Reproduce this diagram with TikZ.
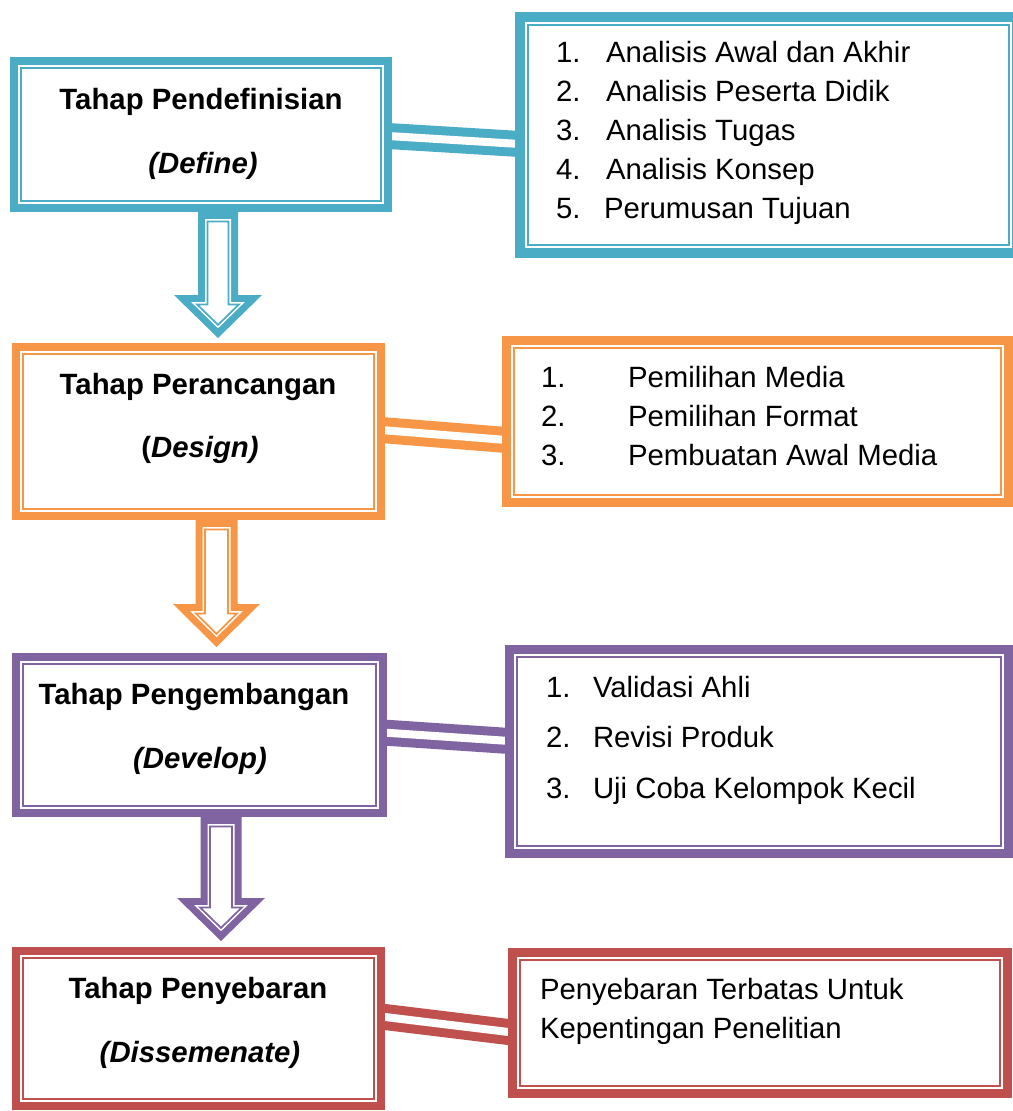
\documentclass[tikz,border=0pt]{standalone}
\usepackage{fontspec}
\setmainfont{Liberation Sans}
\usetikzlibrary{backgrounds}
\definecolor{cblue}{HTML}{4BACC6}
\definecolor{corange}{HTML}{F79646}
\definecolor{cpurple}{HTML}{8064A2}
\definecolor{cred}{HTML}{C0504D}

% box with thick outer border and thin inner line
\newcommand\stagebox[7]{% name, color, x1, y1, x2, y2, border (px)
  \node[draw=#2, fill=white, line width={#7*0.75pt}, inner sep=0pt, outer sep=0pt,
        minimum width={(#5-#3-#7)*0.75pt}, minimum height={(#6-#4-#7)*0.75pt}]
        (#1) at ({(#3+#5)/2},{(#4+#6)/2}) {};
  \draw[#2, line width=1.15pt]
     ([shift={({#7/2+2.8},{#7/2+2.8})}]#1.north west) rectangle
     ([shift={({-#7/2-2.8},{-#7/2-2.8})}]#1.south east);
}

% inset points of a down block arrow
\newcommand\arrowpts[2]{% inset d, top y
  \pgfmathsetmacro\pW{\aw-#1}%
  \pgfmathsetmacro\pTop{#2}%
  \pgfmathsetmacro\pB{\ays+#1}%
  \pgfmathsetmacro\pdy{\ayt-\ays}%
  \pgfmathsetmacro\pL{sqrt(\ah*\ah+\pdy*\pdy)}%
  \pgfmathsetmacro\pT{\ayt-#1*\pL/\ah}%
  \pgfmathsetmacro\pH{(\ah*(\pdy-#1)-#1*\pL)/\pdy}%
  \pgfmathsetmacro\xa{\acx-\pW}%
  \pgfmathsetmacro\xb{\acx+\pW}%
  \pgfmathsetmacro\xc{\acx-\pH}%
  \pgfmathsetmacro\xd{\acx+\pH}%
}
\newcommand\stagearrow[7]{% color, cx, y0, ys, yt, w, h
  \def\acx{#2}\def\ays{#4}\def\ayt{#5}\def\aw{#6}\def\ah{#7}%
  \arrowpts{0}{#3-4}%
  \fill[#1] (\xa,\pTop) -- (\xa,\pB) -- (\xc,\pB) -- (\acx,\pT) -- (\xd,\pB) -- (\xb,\pB) -- (\xb,\pTop) -- cycle;
  \arrowpts{7}{#3+7}%
  \fill[white] (\xa,\pTop) -- (\xa,\pB) -- (\xc,\pB) -- (\acx,\pT) -- (\xd,\pB) -- (\xb,\pB) -- (\xb,\pTop) -- cycle;
  \arrowpts{9.4}{#3+9.4}%
  \draw[#1, line width=1.3pt, line join=miter] (\xa,\pTop) -- (\xa,\pB) -- (\xc,\pB) -- (\acx,\pT) -- (\xd,\pB) -- (\xb,\pB) -- (\xb,\pTop) -- cycle;
}

\begin{document}
\begin{tikzpicture}[x=0.75pt, y=-0.75pt,
  txt/.style={inner sep=0pt, outer sep=0pt, font=\fontsize{22}{26}\selectfont},
  ttl/.style={txt, font=\fontsize{22}{26}\selectfont\bfseries, anchor=base},
  itm/.style={txt, anchor=base west},
  link/.style={draw=#1, line width=6.75pt, double=white, double distance=6pt}]
\useasboundingbox (0,0) rectangle (1013,1111);
\clip (0,0) rectangle (1013,1111);

% ---- boxes
\stagebox{def}{cblue}{10}{57}{392}{212}{8}
\stagebox{defl}{cblue}{515}{12}{1022}{258}{10}
\stagebox{des}{corange}{12}{343}{385}{520}{8}
\stagebox{desl}{corange}{502}{336}{1013}{507}{9}
\stagebox{dev}{cpurple}{12}{653}{387}{817}{8}
\stagebox{devl}{cpurple}{505}{645}{1013}{858}{9}
\stagebox{dis}{cred}{12}{947}{385}{1110}{8}
\stagebox{disl}{cred}{508}{948}{1012}{1098}{9}

% ---- connectors and block arrows (behind the boxes)
\begin{pgfonlayer}{background}
\fill[white] (0,0) rectangle (1013,1111);
\draw[link=cblue] ([shift={(0,1.5)}]def.east) -- ([shift={(0,9)}]defl.west);
\draw[link=corange] ([shift={(0,-1.5)}]des.east) -- ([shift={(0,18.5)}]desl.west);
\draw[link=cpurple] ([shift={(0,-2.5)}]dev.east) -- ([shift={(0,-10.5)}]devl.west);
\draw[link=cred] ([shift={(0,-12)}]dis.east) -- ([shift={(0,9.5)}]disl.west);
\stagearrow{cblue}{218}{212}{295}{338}{20}{44}
\stagearrow{corange}{216.5}{520}{604}{647}{21}{43.5}
\stagearrow{cpurple}{221}{817}{898}{941}{20.5}{44}
\end{pgfonlayer}

% ---- titles
\node[ttl] (defa) at (201,109) {Tahap Pendefinisian};
\node[ttl] (defb) at (203,173) {\textit{(Define)}};
\node[ttl] (desa) at (198,394) {Tahap Perancangan};
\node[ttl] (desb) at (200,457) {(\textit{Design)}};
\node[ttl] (deva) at (194,704) {Tahap Pengembangan};
\node[ttl] (devb) at (200,768) {\textit{(Develop)}};
\node[ttl] (disa) at (198,998) {Tahap Penyebaran};
\node[ttl] (disb) at (200,1062) {\textit{(Dissemenate)}};

% ---- lists
\node[itm] (n11) at (556,62) {1.};  \node[itm] (i11) at (606,62) {Analisis Awal dan Akhir};
\node[itm] (n12) at (556,101) {2.}; \node[itm] (i12) at (606,101) {Analisis Peserta Didik};
\node[itm] (n13) at (556,140) {3.}; \node[itm] (i13) at (606,140) {Analisis Tugas};
\node[itm] (n14) at (556,179) {4.}; \node[itm] (i14) at (606,179) {Analisis Konsep};
\node[itm] (n15) at (556,218) {5.}; \node[itm] (i15) at (604,218) {Perumusan Tujuan};

\node[itm] (n21) at (541,387) {1.}; \node[itm] (i21) at (628,387) {Pemilihan Media};
\node[itm] (n22) at (541,426) {2.}; \node[itm] (i22) at (628,426) {Pemilihan Format};
\node[itm] (n23) at (541,465) {3.}; \node[itm] (i23) at (628,465) {Pembuatan Awal Media};

\node[itm] (n31) at (546,697) {1.}; \node[itm] (i31) at (593,697) {Validasi Ahli};
\node[itm] (n32) at (546,747) {2.}; \node[itm] (i32) at (593,747) {Revisi Produk};
\node[itm] (n33) at (546,798) {3.}; \node[itm] (i33) at (593,798) {Uji Coba Kelompok Kecil};

\node[itm] (i41) at (540,999) {Penyebaran Terbatas Untuk};
\node[itm] (i42) at (540,1038) {Kepentingan Penelitian};
\end{tikzpicture}
\end{document}
